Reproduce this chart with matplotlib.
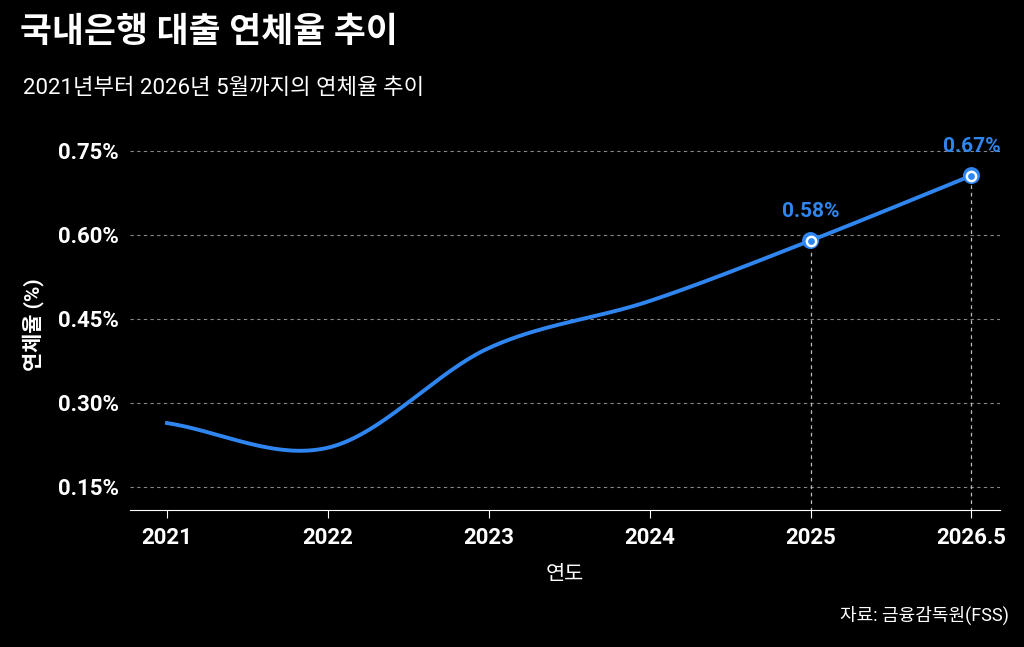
import matplotlib.pyplot as plt
import numpy as np

plt.rcParams['font.family'] = ['Roboto', 'Noto Sans CJK KR', 'DejaVu Sans']

years = ['2021', '2022', '2023', '2024', '2025', '2026.5']
rates = [0.264, 0.220, 0.398, 0.482, 0.590, 0.706]
labels = {4: '0.58%', 5: '0.67%'}
yticks = [0.15, 0.30, 0.45, 0.60, 0.75]
blue = '#2f86f0'

def smooth(x, y, n=40):
    # catmull-rom through the points
    x = np.asarray(x, float); y = np.asarray(y, float)
    px = np.concatenate([[2*x[0]-x[1]], x, [2*x[-1]-x[-2]]])
    py = np.concatenate([[2*y[0]-y[1]], y, [2*y[-1]-y[-2]]])
    xs, ys = [], []
    for i in range(1, len(px)-2):
        t = np.linspace(0, 1, n)
        for arr, out in ((px, xs), (py, ys)):
            p0, p1, p2, p3 = arr[i-1], arr[i], arr[i+1], arr[i+2]
            out.extend(0.5*(2*p1 + (-p0+p2)*t + (2*p0-5*p1+4*p2-p3)*t**2 + (-p0+3*p1-3*p2+p3)*t**3))
    return np.array(xs), np.array(ys)

fig = plt.figure(figsize=(10.24, 6.47), dpi=100, facecolor='black')
ax = fig.add_axes([0.127, 0.212, 0.85, 0.572], facecolor='black')

xi = np.arange(len(years))
sx, sy = smooth(xi, rates)
ax.plot(sx, sy, color=blue, lw=2.8, zorder=3)

for i in labels:
    ax.plot([xi[i], xi[i]], [0, rates[i]], color='#bbbbbb', lw=0.9, ls=(0, (3, 3)), zorder=2)
    ax.scatter(xi[i], rates[i], s=150, color=blue, edgecolor='none', zorder=4)
    ax.scatter(xi[i], rates[i], s=55, color='white', zorder=5)
    ax.scatter(xi[i], rates[i], s=15, color=blue, zorder=6)
    ax.text(xi[i], rates[i] + 0.035, labels[i], color=blue, ha='center', va='bottom',
            fontsize=15, fontweight='bold')

for v in yticks:
    ax.axhline(v, color='#888888', lw=0.8, ls=(0, (3, 3)), zorder=1)

ax.set_xlim(-0.23, 5.18)
ax.set_ylim(0.109, 0.77)
ax.set_xticks(xi, years)
ax.set_yticks(yticks, [f'{v:.2f}%' for v in yticks])
for s in ['top', 'right', 'left']:
    ax.spines[s].set_visible(False)
ax.spines['bottom'].set_color('white')
ax.tick_params(axis='x', colors='white', labelsize=16, length=6, pad=6)
ax.tick_params(axis='y', colors='white', labelsize=16, length=0, pad=8)
for t in ax.get_xticklabels() + ax.get_yticklabels():
    t.set_fontweight('bold')
ax.set_xlabel('연도', color='white', fontsize=15, labelpad=12)
ax.set_ylabel('연체율 (%)', color='white', fontsize=15, fontweight='bold', labelpad=10)

fig.text(0.02, 0.935, '국내은행 대출 연체율 추이', color='white', fontsize=25, fontweight='bold')
fig.text(0.022, 0.855, '2021년부터 2026년 5월까지의 연체율 추이', color='white', fontsize=16)
fig.text(0.985, 0.04, '자료: 금융감독원(FSS)', color='white', fontsize=13, ha='right')

fig.savefig('out.png', dpi=100, facecolor='black')
